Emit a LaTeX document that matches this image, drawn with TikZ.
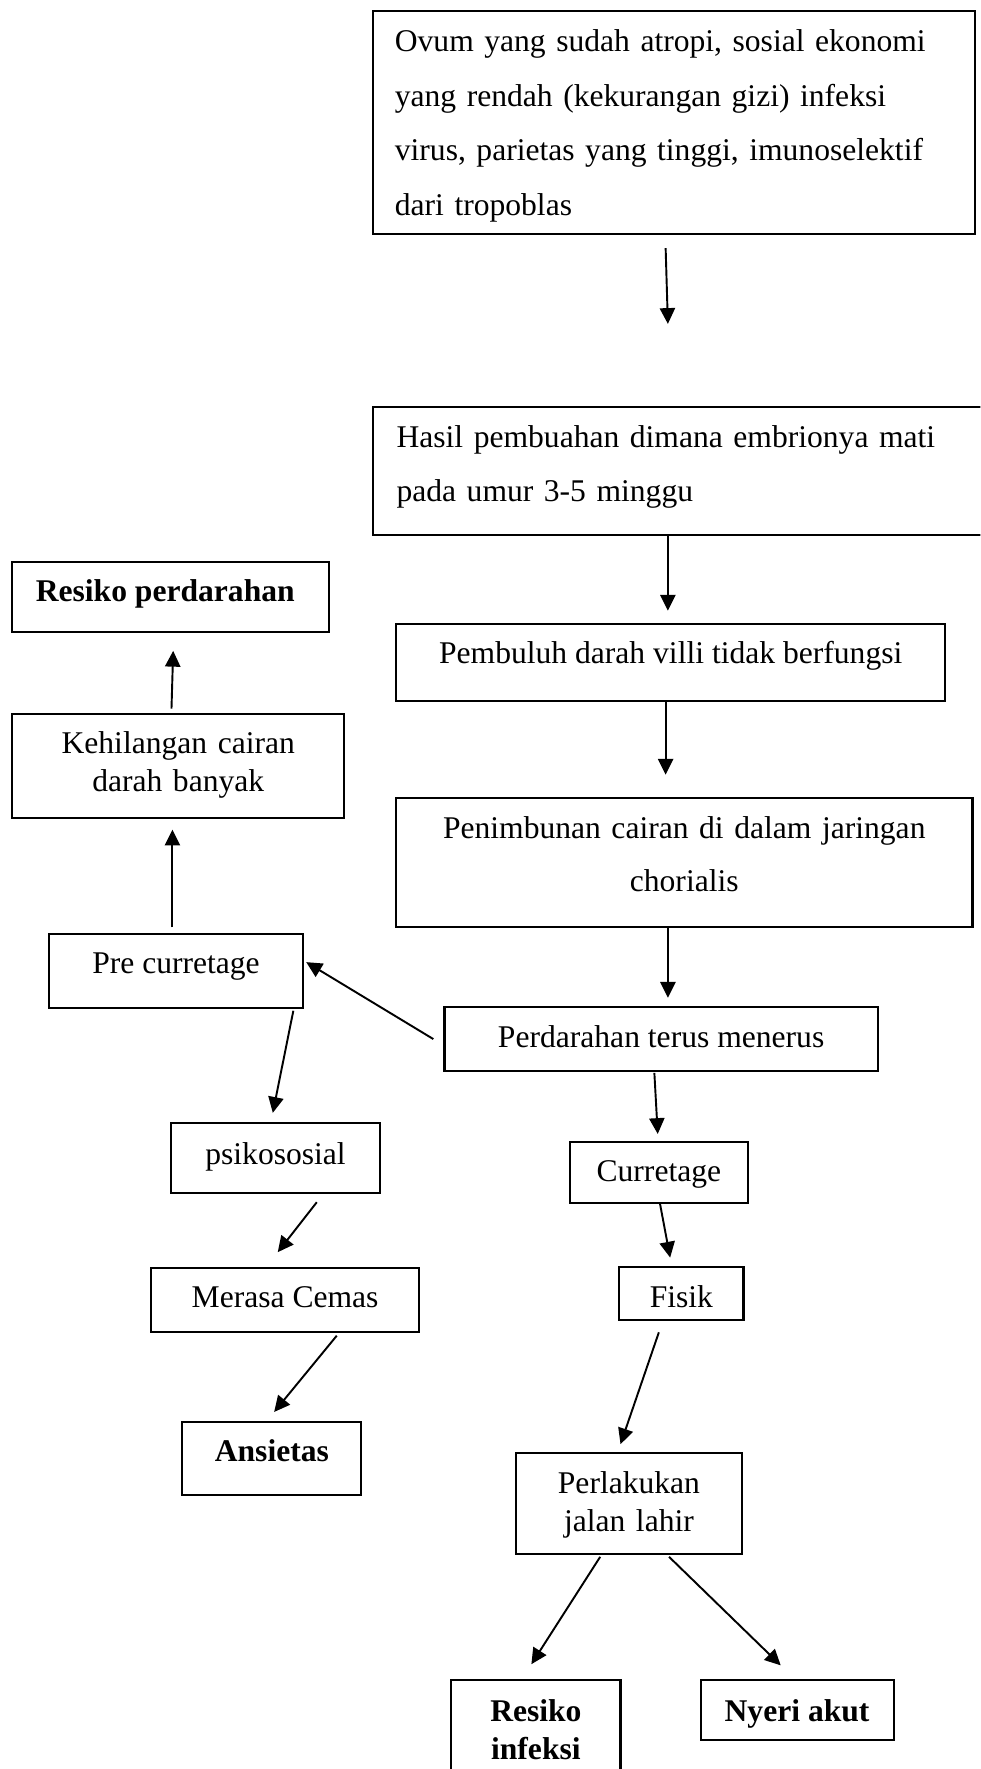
\documentclass[tikz,border=0pt]{standalone}
\usepackage{fontspec}
\setmainfont{Liberation Serif}
\usetikzlibrary{arrows.meta}
\begin{document}
\begin{tikzpicture}[x=1pt,y=-1pt,
  box/.style={draw,line width=1.8pt,rectangle,inner sep=0pt,font=\fontsize{28}{34}\selectfont},
  boldbox/.style={draw,line width=1.8pt,rectangle,inner sep=0pt,font=\fontsize{28}{33.7}\selectfont\bfseries},
  tb/.style 2 args={text height=#1pt,text depth=#2pt},
  arr/.style={line width=1.7pt,-{Triangle[length=14pt,width=13.5pt]}}]
\useasboundingbox (0,0) rectangle (869,1568);
\fill[white] (0,0) rectangle (869,1568);
\clip (0,0) rectangle (869,1568);

% right column
\node[box,font=\fontsize{28}{48.3}\selectfont,minimum width=533pt,minimum height=197pt,text width=495pt,align=left,tb={20}{145}] (A) at (597.5,108.5)
  {Ovum yang sudah atropi, sosial ekonomi\\yang rendah (kekurangan gizi) infeksi\\virus, parietas yang tinggi, imunoselektif\\dari tropoblas};
\node[box,font=\fontsize{28}{48.2}\selectfont,minimum width=559pt,minimum height=113pt,text width=518pt,align=left,tb={20}{62.2}] (B) at (610.5,417.5)
  {Hasil pembuahan dimana embrionya mati\\pada umur 3-5 minggu};
\node[box,minimum width=487pt,minimum height=68pt,tb={20}{18.2}] (C) at (594.5,587.5) {Pembuluh darah villi tidak berfungsi};
\node[box,font=\fontsize{28}{47.5}\selectfont,minimum width=511pt,minimum height=115pt,text width=500pt,align=center,tb={20}{63.4}] (D) at (606.5,764.5)
  {Penimbunan cairan di dalam jaringan\\chorialis};
\node[box,minimum width=384pt,minimum height=56pt,tb={20}{4.4}] (E) at (586,921) {Perdarahan terus menerus};
\node[box,minimum width=158pt,minimum height=54pt,tb={20}{4}] (F) at (584,1039) {Curretage};
\node[box,minimum width=110pt,minimum height=47pt,tb={25}{0}] (G) at (604,1146.5) {Fisik};
\node[box,font=\fontsize{28}{33.6}\selectfont,minimum width=201pt,minimum height=89pt,text width=190pt,align=center,tb={20}{37}] (H) at (557.5,1332.5)
  {Perlakukan\\jalan lahir};
\node[boldbox,minimum width=150pt,minimum height=111pt,text width=140pt,align=center,tb={20}{57}] (I) at (475,1544.5) {Resiko\\infeksi};
\node[boldbox,minimum width=171pt,minimum height=53pt,tb={25}{4}] (J) at (706.5,1515.5) {Nyeri akut};

% left column
\node[boldbox,minimum width=281pt,minimum height=62pt,tb={20}{11}] (K) at (151.5,529) {Resiko perdarahan\kern10pt};
\node[box,minimum width=294pt,minimum height=92.5pt,text width=280pt,align=center,tb={20}{41.5}] (L) at (158,678.75)
  {Kehilangan cairan\\darah banyak};
\node[box,minimum width=225pt,minimum height=66pt,tb={20}{15}] (M) at (156,860.5) {Pre curretage};
\node[box,minimum width=185.5pt,minimum height=62pt,tb={20}{8.6}] (N) at (244.25,1026.5) {psikososial};
\node[box,minimum width=238.2pt,minimum height=57.2pt,tb={20}{6.2}] (O) at (252.7,1152.4) {Merasa Cemas};
\node[boldbox,minimum width=158.7pt,minimum height=65pt,tb={20}{13.8}] (P) at (241,1292.5) {Ansietas};

% connectors
\draw[arr] ([shift={(-7.5,12)}]A.south) -- ([shift={(-18.5,-73)}]B.north);
\draw[arr] ([shift={(-18.5,0)}]B.south) -- ([shift={(-2.5,-11.3)}]C.north);
\draw[arr] ([shift={(-4.5,0)}]C.south) -- ([shift={(-16.5,-19.5)}]D.north);
\draw[arr] ([shift={(-14.5,0)}]D.south) -- ([shift={(6,-7.7)}]E.north);
\draw[arr] ([shift={(-9,0)}]E.west) -- ([shift={(2,-7.7)}]M.east);
\draw[arr] ([shift={(-6,1)}]E.south) -- ([shift={(-1,-6)}]F.north);
\draw[arr] ([shift={(1,0)}]F.south) -- ([shift={(-10,-7.4)}]G.north);
\draw[arr] ([shift={(-20,10)}]G.south) -- ([shift={(-7.5,-7)}]H.north);
\draw[arr] ([shift={(-25.5,2)}]H.south) -- ([shift={(-4,-13)}]I.north);
\draw[arr] ([shift={(35.5,2)}]H.south) -- ([shift={(-14.5,-12)}]J.north);
\draw[arr] ([shift={(-6,-3.5)}]L.north) -- ([shift={(2,16)}]K.south);
\draw[arr] ([shift={(-3.2,-4.5)}]M.north) -- ([shift={(-5.2,9.5)}]L.south);
\draw[arr] ([shift={(104,1.5)}]M.south) -- ([shift={(-2.45,-8.2)}]N.north);
\draw[arr] ([shift={(36.55,7.2)}]N.south) -- ([shift={(-6.5,-13)}]O.north);
\draw[arr] ([shift={(45.8,2)}]O.south) -- ([shift={(2,-7.6)}]P.north);
\end{tikzpicture}
\end{document}
